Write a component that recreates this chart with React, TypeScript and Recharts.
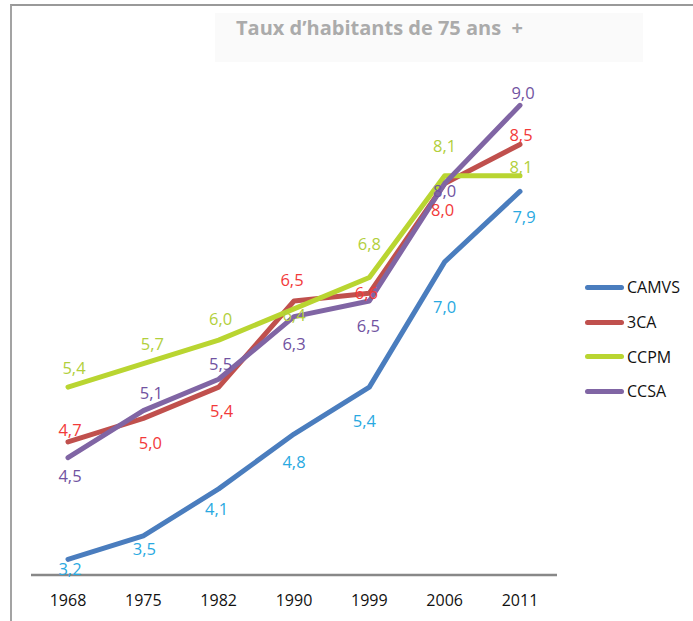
import React from "react";
import { LineChart, Line, XAxis, YAxis, LabelList } from "recharts";

// Taux d'habitants de 75 ans et plus (%)
const years = ["1968", "1975", "1982", "1990", "1999", "2006", "2011"];
const camvs = [3.2, 3.5, 4.1, 4.8, 5.4, 7.0, 7.9];
const ca3 = [4.7, 5.0, 5.4, 6.5, 6.6, 8.0, 8.5];
const ccpm = [5.4, 5.7, 6.0, 6.4, 6.8, 8.1, 8.1];
const ccsa = [4.5, 5.1, 5.5, 6.3, 6.5, 8.0, 9.0];

const data = years.map((year, i) => ({
  year,
  CAMVS: camvs[i],
  "3CA": ca3[i],
  CCPM: ccpm[i],
  CCSA: ccsa[i],
}));

const FONT = "'Open Sans', 'Noto Sans', sans-serif";

const series = [
  { key: "CAMVS", stroke: "#4A7DBE", label: "#29A9E1" },
  { key: "3CA", stroke: "#C0504D", label: "#F23A3A" },
  { key: "CCPM", stroke: "#B9D531", label: "#B2CF3C" },
  { key: "CCSA", stroke: "#8065A4", label: "#7153A1" },
];

// label nudges (dx, dy) from each point, as placed in the original
const labelNudge: Record<string, [number, number][]> = {
  CAMVS: [[2, 9], [1, 13], [-2, 20], [0, 27], [-5, 33], [0, 45], [4, 25]],
  "3CA": [[2, -12], [7, 24], [3, 23], [-2, -22], [-3, -1], [-2, 26], [1, -10]],
  CCPM: [[6, -20], [9, -20], [2, -22], [0, 6], [0, -34], [0, -30], [1, -9]],
  CCSA: [[2, 18], [8, -18], [2, -16], [0, 27], [-1, 24], [0, 7], [3, -13]],
};

const fmt = (v: number) => v.toFixed(1).replace(".", ",");

function makeLabel(key: string, color: string) {
  return (props: any) => {
    const { x, y, value, index } = props;
    const [dx, dy] = labelNudge[key][index] ?? [0, -14];
    return (
      <text
        x={Number(x) + dx}
        y={Number(y) + dy}
        fill={color}
        fontSize={16.5}
        fontFamily={FONT}
        textAnchor="middle"
        dominantBaseline="central"
      >
        {fmt(Number(value))}
      </text>
    );
  };
}

export default function App() {
  return (
    <div
      style={{
        position: "absolute",
        left: 0,
        top: 0,
        width: 693,
        height: 621,
        background: "#fff",
        overflow: "hidden",
      }}
    >
      <div
        style={{
          position: "absolute",
          left: 10,
          top: 4,
          width: 683,
          height: 617,
          borderTop: "2px solid #999",
          borderLeft: "2px solid #A3A3A3",
          boxSizing: "border-box",
        }}
      />
      <div
        style={{
          position: "absolute",
          left: 215,
          top: 13,
          width: 428,
          height: 49,
          background: "#FAFAFA",
        }}
      />
      <div
        style={{
          position: "absolute",
          left: 236,
          top: 18,
          fontFamily: FONT,
          fontWeight: 700,
          fontSize: 20,
          lineHeight: "20px",
          color: "#ABABAB",
          whiteSpace: "pre",
        }}
      >
        {"Taux d\u2019habitants de 75 ans  +"}
      </div>

      <LineChart
        width={693}
        height={621}
        data={data}
        margin={{ top: 27, right: 136, left: 31, bottom: 16 }}
        style={{ position: "absolute", left: 0, top: 0 }}
      >
        <XAxis
          dataKey="year"
          padding={{ left: 37, right: 37 }}
          height={30}
          tickLine={false}
          tickMargin={14}
          axisLine={{ stroke: "#888", strokeWidth: 2.5 }}
          tick={{ fill: "#111", fontSize: 16, fontFamily: FONT }}
          interval={0}
        />
        <YAxis hide domain={[3, 10]} />
        {series.map((s) => (
          <Line
            key={s.key}
            dataKey={s.key}
            stroke={s.stroke}
            strokeWidth={5}
            strokeLinecap="round"
            strokeLinejoin="round"
            dot={false}
            activeDot={false}
            isAnimationActive={false}
          >
            <LabelList dataKey={s.key} content={makeLabel(s.key, s.label)} />
          </Line>
        ))}
      </LineChart>

      <div style={{ position: "absolute", left: 585, top: 270, fontFamily: FONT }}>
        {series.map((s) => (
          <div
            key={s.key}
            style={{ display: "flex", alignItems: "center", height: 34.7 }}
          >
            <span
              style={{
                display: "inline-block",
                width: 39,
                height: 5,
                borderRadius: 3,
                background: s.stroke,
              }}
            />
            <span style={{ marginLeft: 3, fontSize: 16, color: "#111" }}>{s.key}</span>
          </div>
        ))}
      </div>
    </div>
  );
}
